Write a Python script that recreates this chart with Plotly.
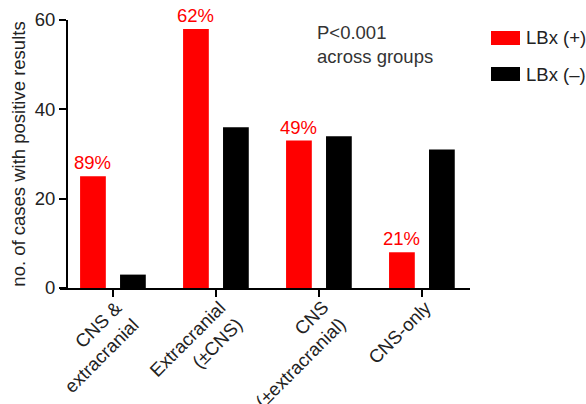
import plotly.graph_objects as go

# Data
categories = ["CNS &<br>extracranial", "Extracranial<br>(±CNS)", "CNS<br>(±extracranial)", "CNS-only"]
lbx_pos = [25, 58, 33, 8]
lbx_neg = [3, 36, 34, 31]
pct_labels = ["89%", "62%", "49%", "21%"]
series_names = ["LBx (+)", "LBx (–)"]
y_ticks = [0, 20, 40, 60]

RED = "#ff0000"
BLACK = "#000000"
FONT = "Liberation Sans, Arial, Helvetica, sans-serif"
FS = 18.5
TXT = "#222222"

idx = list(range(len(categories)))
bar_w = 0.25

fig = go.Figure()
fig.add_trace(go.Bar(x=idx, y=lbx_pos, name=series_names[0], width=bar_w,
                     offset=-0.32, marker=dict(color=RED, line=dict(width=0))))
fig.add_trace(go.Bar(x=idx, y=lbx_neg, name=series_names[1], width=bar_w,
                     offset=0.068, marker=dict(color=BLACK, line=dict(width=0))))

# percentage labels above the red bars
for i, (v, t) in enumerate(zip(lbx_pos, pct_labels)):
    fig.add_annotation(x=i - 0.32 + bar_w / 2, y=v, text=t, showarrow=False,
                       yanchor="bottom", yshift=1,
                       font=dict(family=FONT, size=FS, color=RED))

# rotated category labels, right-aligned so each block's upper-right corner
# sits just below and to the right of its tick
line_h = 1.3 * FS
for i, lab in enumerate(categories):
    n_lines = lab.count("<br>") + 1
    box_h = (n_lines - 1) * line_h + 1.2 * FS + 2
    fig.add_annotation(x=i, xref="x", y=0, yref="paper", text=lab,
                       textangle=-45, showarrow=False, align="right",
                       xanchor="right", yanchor="top",
                       xshift=-1 + box_h * 0.7071, yshift=-6,
                       font=dict(family=FONT, size=FS, color=TXT))

fig.add_annotation(xref="paper", yref="paper", x=(315 - 60) / 410, y=1.0,
                   xanchor="left", yanchor="top", align="left", showarrow=False,
                   text="P<0.001<br>across groups",
                   font=dict(family=FONT, size=FS, color="#333333"))

# custom legend
leg_colors = [RED, BLACK]
leg_y = [38, 74]  # pixel centres from top
plot_top, plot_h = 20, 268
for name, col, py in zip(series_names, leg_colors, leg_y):
    yc = 1 - (py - plot_top) / plot_h
    half = 7 / plot_h
    fig.add_shape(type="rect", xref="paper", yref="paper",
                  x0=(491 - 60) / 410, x1=(520 - 60) / 410,
                  y0=yc - half, y1=yc + half,
                  fillcolor=col, line=dict(width=0))
    fig.add_annotation(xref="paper", yref="paper", x=(524 - 60) / 410, y=yc,
                       xanchor="left", yanchor="middle", showarrow=False,
                       text=name, font=dict(family=FONT, size=FS, color=TXT))

fig.update_layout(
    width=586, height=404,
    margin=dict(l=60, r=116, t=20, b=116, autoexpand=False),
    plot_bgcolor="white", paper_bgcolor="white",
    showlegend=False,
    font=dict(family=FONT, size=FS, color=TXT),
    xaxis=dict(range=[-0.515, 3.466], tickmode="array", tickvals=idx,
               showticklabels=False, automargin=False,
               showline=True, linecolor="black", linewidth=2,
               ticks="outside", ticklen=7, tickwidth=2, tickcolor="black",
               showgrid=False, zeroline=False),
    yaxis=dict(range=[0, 60], tickvals=y_ticks, anchor="free", position=7 / 410,
               automargin=False,
               showline=True, linecolor="black", linewidth=2,
               ticks="outside", ticklen=7, tickwidth=2, tickcolor="black",
               showgrid=False, zeroline=False,
               title=dict(text="no. of cases with positive results", standoff=3,
                          font=dict(family=FONT, size=FS, color=TXT)),
               tickfont=dict(family=FONT, size=FS, color=TXT)),
)

fig.write_html("out.html")
